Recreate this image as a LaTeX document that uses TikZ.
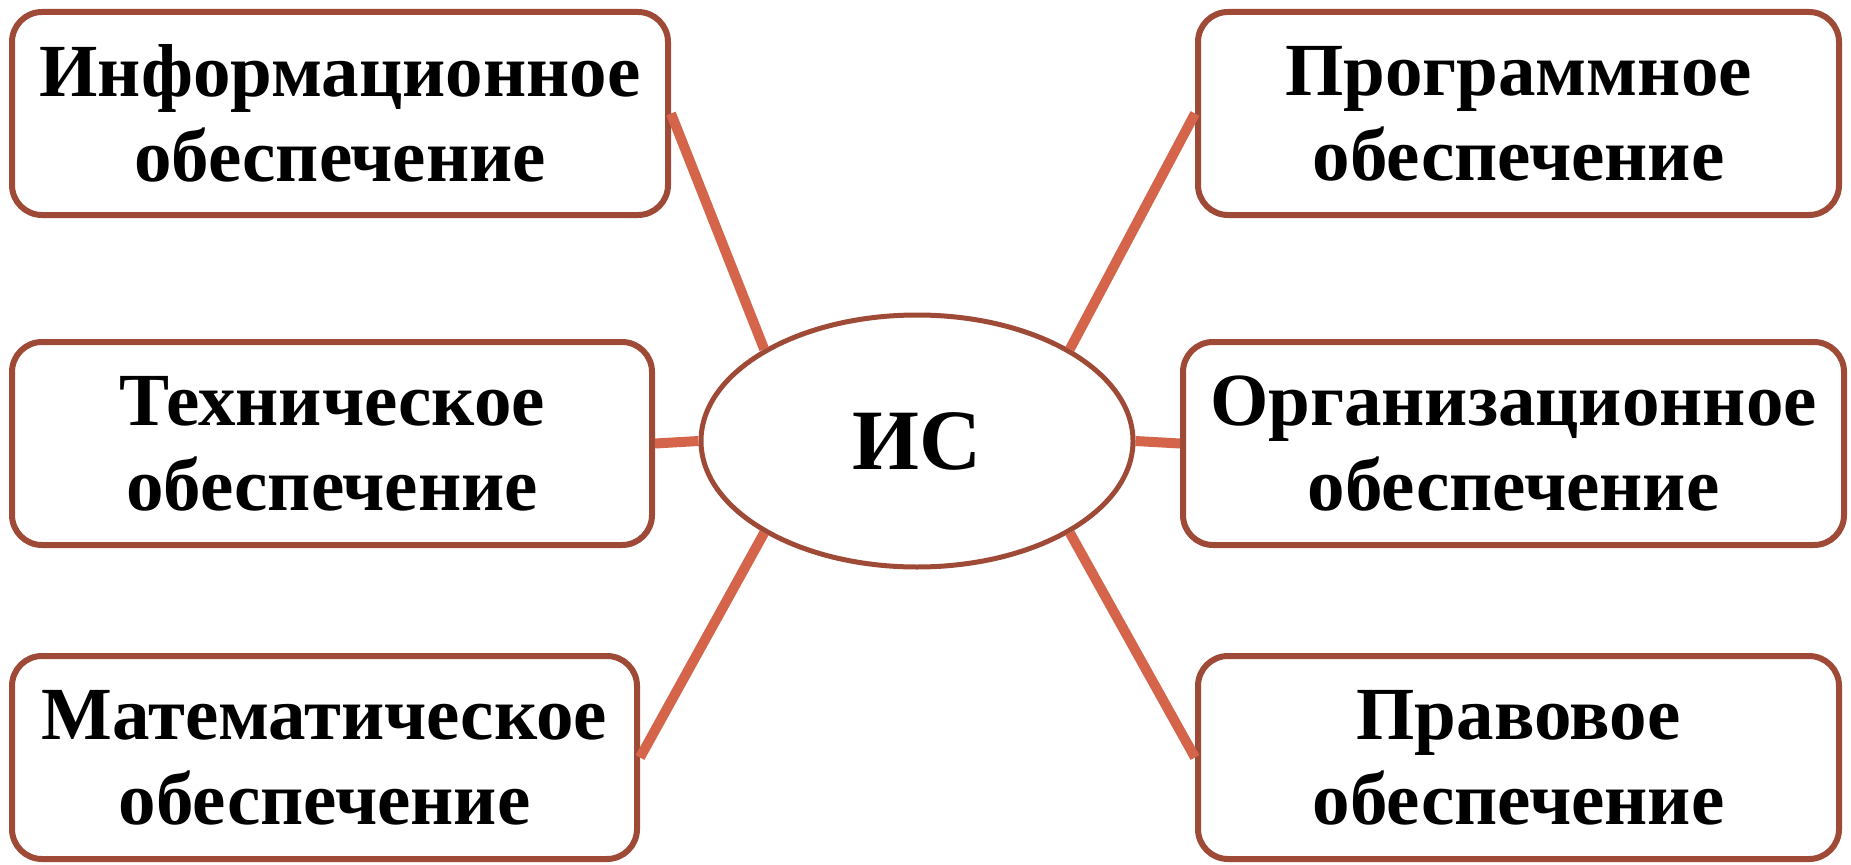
\documentclass[tikz,border=0pt]{standalone}
\usepackage{fontspec}
\setmainfont{Liberation Serif}
\usetikzlibrary{shapes.geometric}
\definecolor{boxline}{HTML}{9E4A36}
\definecolor{conn}{HTML}{D4654A}
\begin{document}
\begin{tikzpicture}[x=1pt,y=-1pt,
  box/.style={draw=boxline, line width=6pt, fill=white, rounded corners=30pt,
    minimum height=203pt, inner sep=0pt, align=center,
    font=\fontsize{75}{85}\selectfont\bfseries},
  hub/.style={draw=boxline, line width=5pt, fill=white, ellipse, inner sep=0pt,
    minimum width=432pt, minimum height=252pt,
    font=\fontsize{86}{90}\selectfont\bfseries},
  link/.style={draw=conn, line width=10pt}]
\useasboundingbox (0,0) rectangle (1851,864);
\fill[white] (0,0) rectangle (1851,864);
\node[box, minimum width=656pt] (tl) at (340,113.5) {Информационное\\обеспечение};
\node[box, minimum width=640pt] (ml) at (332,443.5) {Техническое\\обеспечение};
\node[box, minimum width=625pt] (bl) at (324.5,757.5) {Математическое\\обеспечение};
\node[box, minimum width=641pt] (tr) at (1518.5,113.5) {Программное\\обеспечение};
\node[box, minimum width=661pt] (mr) at (1513.5,443.5) {Организационное\\обеспечение};
\node[box, minimum width=641pt] (br) at (1518.5,757.5) {Правовое\\обеспечение};
\node[hub] (is) at (917,441) {ИС};
\draw[link] (tl.east) -- (is.149);
\draw[link] (ml.east) -- (is.west);
\draw[link] (bl.east) -- (is.211);
\draw[link] (tr.west) -- (is.31);
\draw[link] (mr.west) -- (is.east);
\draw[link] (br.west) -- (is.329);
\end{tikzpicture}
\end{document}
